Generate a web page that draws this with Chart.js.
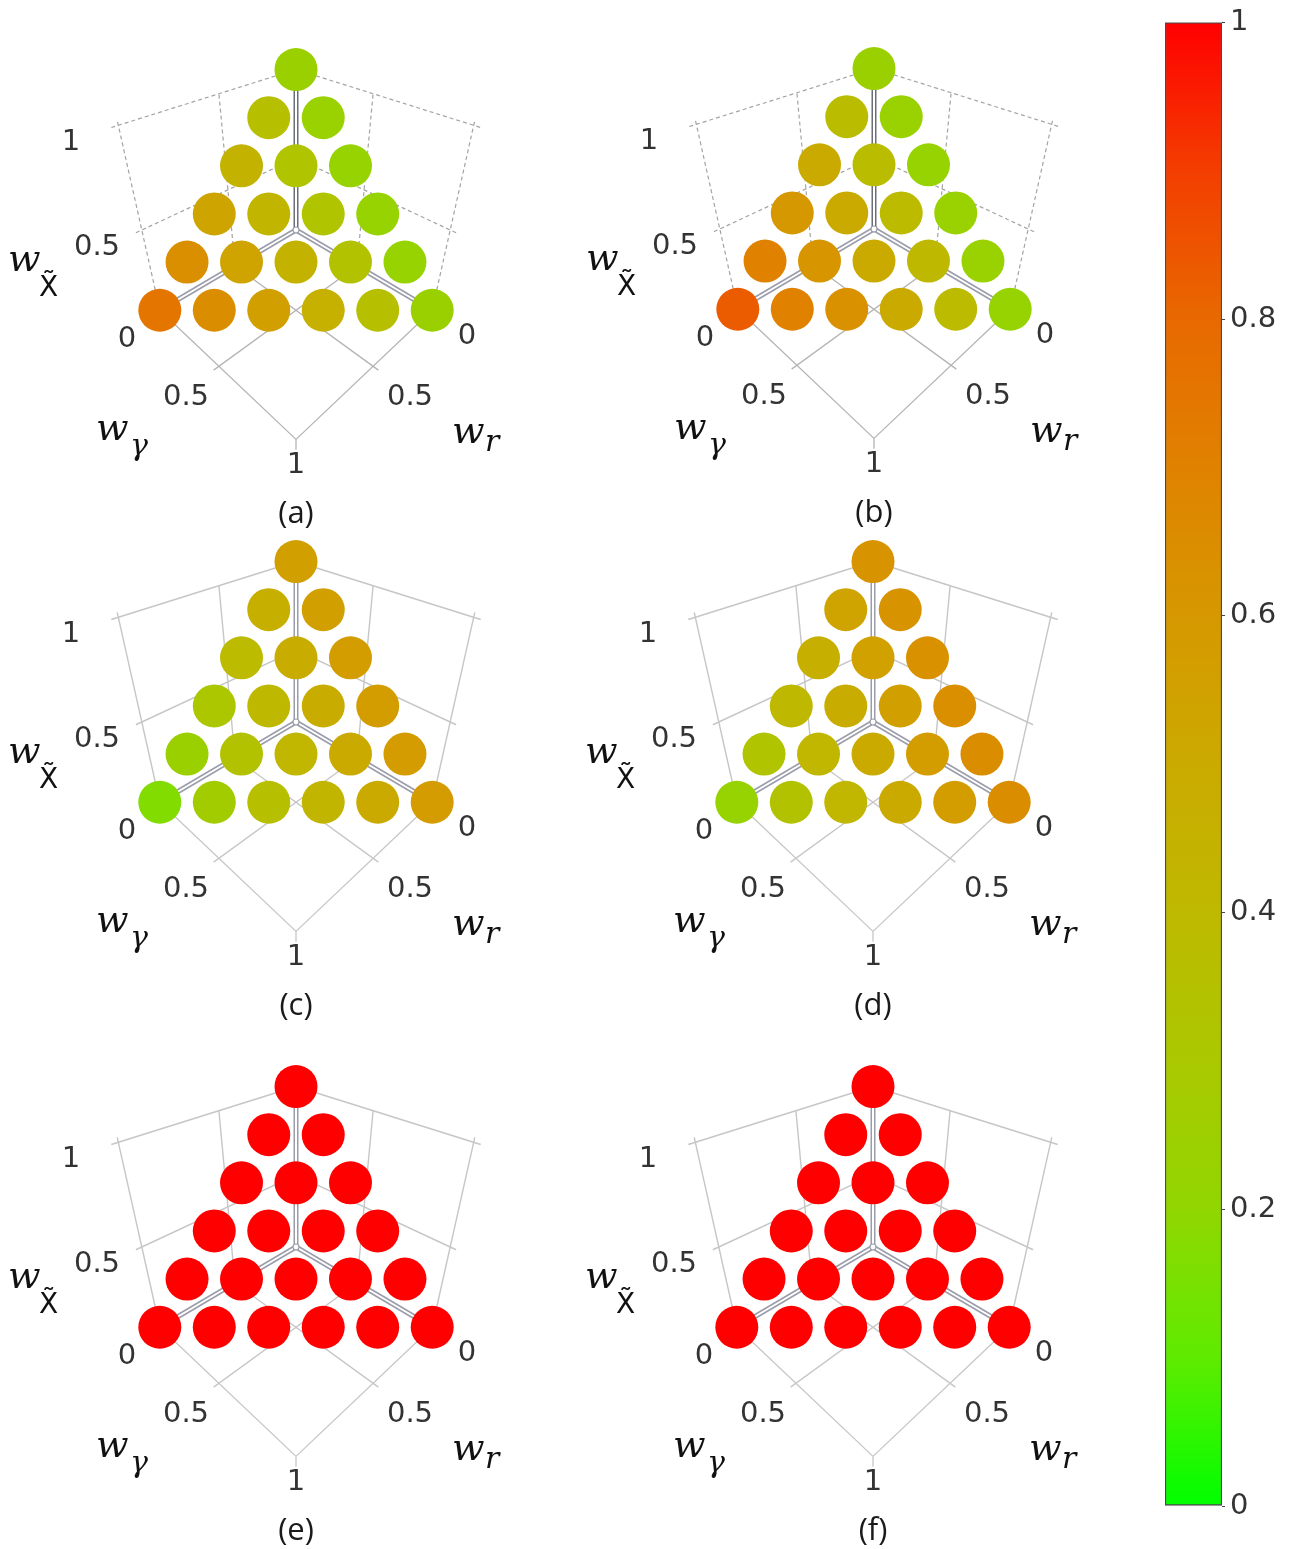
<!DOCTYPE html>
<html>
<head>
<meta charset="utf-8">
<script src="https://cdn.jsdelivr.net/npm/chart.js@4.4.1/dist/chart.umd.min.js"></script>
<style>
  html, body { margin: 0; padding: 0; background: #fff; width: 1290px; height: 1549px; overflow: hidden; position: relative; }
  canvas { position: absolute; }
</style>
</head>
<body>
<canvas id="pa" width="560" height="545" style="left:0px;top:0px"></canvas>
<canvas id="pb" width="560" height="545" style="left:578px;top:-1px"></canvas>
<canvas id="pc" width="560" height="545" style="left:0px;top:492px"></canvas>
<canvas id="pd" width="560" height="545" style="left:577px;top:492px"></canvas>
<canvas id="pe" width="560" height="545" style="left:0px;top:1017px"></canvas>
<canvas id="pf" width="560" height="545" style="left:577px;top:1017px"></canvas>
<canvas id="cbar" width="140" height="1549" style="left:1150px;top:0px"></canvas>
<script>
// Weights of the 21 grid points on the simplex wX~ + wr + wγ = 1, listed row by row (top to bottom, left to right)
const wX = [1, 0.8, 0.8, 0.6, 0.6, 0.6, 0.4, 0.4, 0.4, 0.4, 0.2, 0.2, 0.2, 0.2, 0.2, 0, 0, 0, 0, 0, 0];
const wR = [0, 0.2, 0, 0.4, 0.2, 0, 0.6, 0.4, 0.2, 0, 0.8, 0.6, 0.4, 0.2, 0, 1, 0.8, 0.6, 0.4, 0.2, 0];
const wG = [0, 0, 0.2, 0, 0.2, 0.4, 0, 0.2, 0.4, 0.6, 0, 0.2, 0.4, 0.6, 0.8, 0, 0.2, 0.4, 0.6, 0.8, 1];

// Normalised value at each grid point, one array per panel
const valuesA = [0.24, 0.36, 0.23, 0.44, 0.33, 0.22, 0.53, 0.43, 0.33, 0.22, 0.64, 0.54, 0.44, 0.34, 0.22, 0.75, 0.65, 0.56, 0.46, 0.36, 0.24];
const valuesB = [0.24, 0.38, 0.23, 0.50, 0.38, 0.22, 0.60, 0.50, 0.39, 0.23, 0.70, 0.61, 0.50, 0.40, 0.23, 0.83, 0.70, 0.63, 0.50, 0.39, 0.22];
const valuesC = [0.56, 0.47, 0.56, 0.39, 0.48, 0.57, 0.31, 0.40, 0.48, 0.57, 0.24, 0.34, 0.42, 0.50, 0.58, 0.17, 0.27, 0.36, 0.43, 0.50, 0.58];
const valuesD = [0.62, 0.54, 0.62, 0.47, 0.55, 0.63, 0.41, 0.48, 0.56, 0.64, 0.33, 0.42, 0.50, 0.57, 0.65, 0.22, 0.34, 0.42, 0.50, 0.57, 0.65];
const valuesE = [1, 1, 1, 1, 1, 1, 1, 1, 1, 1, 1, 1, 1, 1, 1, 1, 1, 1, 1, 1, 1];
const valuesF = [1, 1, 1, 1, 1, 1, 1, 1, 1, 1, 1, 1, 1, 1, 1, 1, 1, 1, 1, 1, 1];

const panelCaptions = ['(a)', '(b)', '(c)', '(d)', '(e)', '(f)'];
const weightTickLabels = ['0', '0.5', '1'];
const colorbarTicks = [0, 0.2, 0.4, 0.6, 0.8, 1];
const colorbarLabels = ['0', '0.2', '0.4', '0.6', '0.8', '1'];

// Green → red colour scale
const CMAP = [
  [0.0, [0, 255, 0]], [0.1, [95, 235, 0]], [0.2, [145, 214, 0]], [0.3, [170, 200, 0]],
  [0.4, [190, 185, 0]], [0.5, [203, 170, 0]], [0.6, [214, 152, 0]], [0.7, [224, 130, 0]],
  [0.8, [232, 105, 0]], [0.9, [243, 62, 0]], [1.0, [255, 0, 0]]
];
function colorOf(v) {
  for (let i = 1; i < CMAP.length; i++) {
    const [t1, c1] = CMAP[i], [t0, c0] = CMAP[i - 1];
    if (v <= t1) {
      const f = (v - t0) / (t1 - t0);
      return 'rgb(' + c0.map((c, k) => Math.round(c + (c1[k] - c) * f)).join(',') + ')';
    }
  }
  return 'rgb(255,0,0)';
}

// Perspective view of the unit cube looking along (1,1,1): h = wX~ (up), q = wr (left), p = wγ (right)
const CAM = { F: 486, L: 3.05, kx: 0.98 };
const SIN = Math.sqrt(1 / 3), COS = Math.sqrt(2 / 3), R2 = Math.SQRT1_2;
function project(h, q, p) {
  const u = (p - q) * R2, d = (p + q) * R2;
  const z = CAM.L - (h * SIN + d * COS);
  return { x: CAM.F * CAM.kx * u / z, y: CAM.F * (h * COS - d * SIN) / z };
}

Chart.defaults.font.family = 'DejaVu Sans';

const simplexFrame = {
  id: 'simplexFrame',
  beforeDatasetsDraw(chart, args, opts) {
    const ctx = chart.ctx, xs = chart.scales.x, ys = chart.scales.y;
    const px = (h, q, p) => { const v = project(h, q, p); return [xs.getPixelForValue(v.x), ys.getPixelForValue(v.y)]; };
    const seg = (a, b) => {
      const A = px(a[0], a[1], a[2]), B = px(b[0], b[1], b[2]);
      ctx.beginPath(); ctx.moveTo(A[0], A[1]); ctx.lineTo(B[0], B[1]); ctx.stroke();
    };
    ctx.save();
    ctx.lineCap = 'butt';
    // back walls and top edges
    ctx.strokeStyle = opts.wallColor; ctx.lineWidth = opts.wallWidth; ctx.setLineDash(opts.wallDash);
    seg([1, 1.03, 0], [1, 0, 0]); seg([1, 0, 0], [1, 0, 1.03]);
    seg([0, 1, 0], [1.02, 1, 0]); seg([0, 0, 1], [1.02, 0, 1]);
    seg([0.5, 1.03, 0], [0.5, 0, 0]); seg([0, 0.5, 0], [1, 0.5, 0]);
    seg([0.5, 0, 1.03], [0.5, 0, 0]); seg([0, 0, 0.5], [1, 0, 0.5]);
    // floor
    ctx.setLineDash([]); ctx.strokeStyle = opts.floorColor; ctx.lineWidth = 1.3;
    seg([0, 1, 0], [0, 1, 1]); seg([0, 0, 1], [0, 1, 1]);
    seg([0, 0.5, 0], [0, 0.5, 1.03]); seg([0, 0, 0.5], [0, 1.03, 0.5]);
    seg([0, 1, 1], [0, 1.03, 1.03]);
    // coordinate axes drawn as hollow tubes from the origin
    const tubes = [[1, 0, 0], [0, 1, 0], [0, 0, 1]];
    tubes.forEach((t, i) => {
      ctx.strokeStyle = (i === 0 && opts.darkStem) ? '#6b6d78' : '#9a9caa';
      ctx.lineWidth = 5; seg([0, 0, 0], t);
    });
    tubes.forEach((t) => { ctx.strokeStyle = '#ffffff'; ctx.lineWidth = 2; seg([0, 0, 0], t); });
    const o = px(0, 0, 0);
    ctx.fillStyle = '#ffffff'; ctx.strokeStyle = '#9a9caa'; ctx.lineWidth = 1.2;
    ctx.beginPath(); ctx.arc(o[0], o[1], 3, 0, Math.PI * 2); ctx.fill(); ctx.stroke();
    ctx.restore();
  },
  afterDraw(chart, args, opts) {
    const ctx = chart.ctx, xs = chart.scales.x, ys = chart.scales.y;
    const v = project(0, 0, 0);
    const ox = xs.getPixelForValue(v.x), oy = ys.getPixelForValue(v.y);
    ctx.save();
    ctx.fillStyle = '#333333';
    ctx.textAlign = 'center'; ctx.textBaseline = 'middle';
    ctx.font = '29px "DejaVu Sans"';
    const T = weightTickLabels;
    ctx.fillText(T[2], ox - 225, oy - 88);
    ctx.fillText(T[1], ox - 199, oy + 17);
    ctx.fillText(T[0], ox - 169, oy + 109);
    ctx.fillText(T[1], ox - 110, oy + 167);
    ctx.fillText(T[2], ox, oy + 235);
    ctx.fillText(T[1], ox + 114, oy + 167);
    ctx.fillText(T[0], ox + 171, oy + 106);
    // caption
    ctx.fillStyle = '#1a1a1a';
    ctx.font = '31px "Open Sans"';
    ctx.fillText(opts.caption, ox, oy + 284);
    // axis titles
    ctx.fillStyle = '#111111';
    ctx.textAlign = 'left'; ctx.textBaseline = 'alphabetic';
    ctx.font = 'italic 38px "DejaVu Serif"';
    ctx.fillText('w', ox - 288, oy + 41);
    ctx.fillText('w', ox - 200, oy + 210);
    ctx.fillText('w', ox + 156, oy + 213);
    ctx.font = '28px "DejaVu Sans"';
    ctx.fillText('X\u0303', ox - 257, oy + 66);
    ctx.font = 'italic 30px "DejaVu Serif"';
    ctx.fillText('\u03B3', ox - 166, oy + 225);
    ctx.fillText('r', ox + 189, oy + 221);
    ctx.restore();
  }
};

const panels = [
  { id: 'pa', values: valuesA, caption: panelCaptions[0], dashed: true },
  { id: 'pb', values: valuesB, caption: panelCaptions[1], dashed: true },
  { id: 'pc', values: valuesC, caption: panelCaptions[2], dashed: false },
  { id: 'pd', values: valuesD, caption: panelCaptions[3], dashed: false },
  { id: 'pe', values: valuesE, caption: panelCaptions[4], dashed: false },
  { id: 'pf', values: valuesF, caption: panelCaptions[5], dashed: false }
];

panels.forEach((pn) => {
  const pts = wX.map((h, i) => {
    const pr = project(h, wR[i], wG[i]);
    return { x: pr.x, y: pr.y, v: pn.values[i] };
  });
  new Chart(document.getElementById(pn.id), {
    type: 'scatter',
    data: {
      datasets: [{
        data: pts,
        backgroundColor: pn.values.map(colorOf),
        borderWidth: 0,
        pointRadius: 21.5,
        pointHoverRadius: 21.5,
        clip: false
      }]
    },
    options: {
      responsive: false,
      devicePixelRatio: 1,
      animation: false,
      events: [],
      layout: { padding: 0, autoPadding: false },
      scales: {
        x: { type: 'linear', display: false, min: -296, max: 264 },
        y: { type: 'linear', display: false, min: -315, max: 230 }
      },
      plugins: {
        legend: { display: false },
        tooltip: { enabled: false },
        simplexFrame: {
          caption: pn.caption,
          wallDash: pn.dashed ? [4, 3] : [],
          wallColor: pn.dashed ? '#a4a4a4' : '#c6c6c6',
          wallWidth: pn.dashed ? 1.2 : 1.4,
          floorColor: pn.dashed ? '#b4b4b4' : '#c6c6c6',
          darkStem: pn.dashed
        }
      }
    },
    plugins: [simplexFrame]
  });
});

// colour bar
new Chart(document.getElementById('cbar'), {
  type: 'bar',
  data: {
    labels: [''],
    datasets: [{
      data: [1],
      barPercentage: 1,
      categoryPercentage: 1,
      borderWidth: 1.5,
      borderColor: '#4a4a4a',
      borderSkipped: false,
      backgroundColor: (c) => {
        const ch = c.chart;
        if (!ch.chartArea) return '#888';
        const ys = ch.scales.y;
        const g = ch.ctx.createLinearGradient(0, ys.getPixelForValue(0), 0, ys.getPixelForValue(1));
        CMAP.forEach(([t, rgb]) => g.addColorStop(t, 'rgb(' + rgb.join(',') + ')'));
        return g;
      }
    }]
  },
  options: {
    responsive: false,
    devicePixelRatio: 1,
    animation: false,
    events: [],
    layout: { padding: { left: 15, top: 20, bottom: 43, right: 0 } },
    scales: {
      x: { display: false },
      y: {
        position: 'right',
        min: 0, max: 1,
        afterFit: (s) => { s.width = 68; },
        afterBuildTicks: (s) => { s.ticks = colorbarTicks.map((v) => ({ value: v })); },
        ticks: {
          font: { family: 'DejaVu Sans', size: 29 },
          color: '#333333',
          padding: 5,
          callback: (val) => colorbarLabels[colorbarTicks.indexOf(val)]
        },
        grid: { drawOnChartArea: false, drawTicks: true, tickLength: 3, color: '#444444' },
        border: { display: false }
      }
    },
    plugins: { legend: { display: false }, tooltip: { enabled: false } }
  }
});
</script>
</body>
</html>
